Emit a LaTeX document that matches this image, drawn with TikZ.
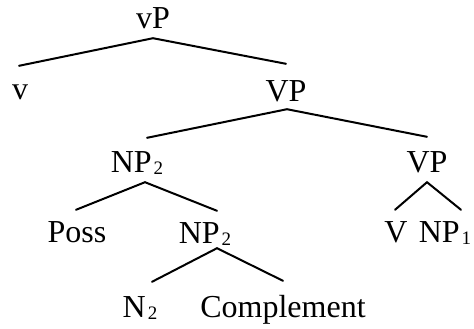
\documentclass[tikz,border=0pt]{standalone}
\usepackage{fontspec}
\setmainfont{Liberation Serif}
\newcommand{\subidx}[1]{\kern2bp\raisebox{-2bp}{\fontsize{19bp}{19bp}\selectfont #1}}
\begin{document}
\begin{tikzpicture}[x=1bp,y=-1bp,
  lbl/.style={inner sep=0pt, anchor=base, text height=22bp, text depth=7bp,
    font=\fontsize{32bp}{36bp}\selectfont},
  br/.style={line width=2bp, line cap=round}]
\useasboundingbox (0,0) rectangle (474,328);
% labels (x = centre, y = baseline, measured downwards)
\node[lbl] (vP)   at (153,28)  {vP};
\node[lbl] (v)    at (20,99)   {v};
\node[lbl] (VPa)  at (286,101) {VP};
\node[lbl] (NPa)  at (137,172) {NP\subidx{2}};
\node[lbl] (VPb)  at (427,172) {VP};
\node[lbl] (Poss) at (77,242)  {Poss};
\node[lbl] (NPb)  at (205,243) {NP\subidx{2}};
\node[lbl] (V)    at (396,242) {V};
\node[lbl] (NPc)  at (445,242) {NP\subidx{1}};
\node[lbl] (N)    at (140,317) {N\subidx{2}};
\node[lbl] (Comp) at (283,317) {Complement};
% branches
\draw[br] ([shift={(-1,-11)}]v.north) -- ([shift={(0,3)}]vP.south) -- ([shift={(0,-15)}]VPa.north);
\draw[br] ([shift={(10,-12)}]NPa.north) -- ([shift={(1,1)}]VPa.south) -- ([shift={(0,-13)}]VPb.north);
\draw[br] ([shift={(-1,-10)}]Poss.north) -- ([shift={(8,3)}]NPa.south) -- ([shift={(12,-10)}]NPb.north);
\draw[br] ([shift={(-1,-10)}]V.north) -- ([shift={(0,3)}]VPb.south) -- ([shift={(16,-10)}]NPc.north);
\draw[br] ([shift={(12,-13)}]N.north) -- ([shift={(12,-2)}]NPb.south) -- ([shift={(0,-14)}]Comp.north);
\end{tikzpicture}
\end{document}
